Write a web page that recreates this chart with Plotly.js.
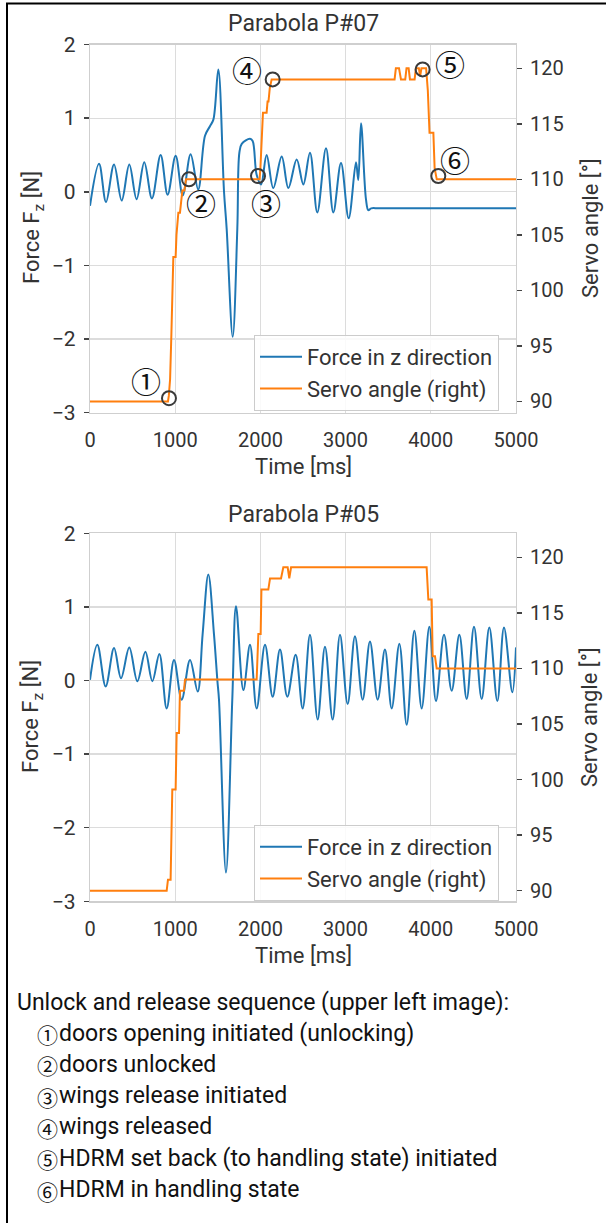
<!DOCTYPE html>
<html>
<head>
<meta charset="utf-8">
<script src="https://cdn.plot.ly/plotly-3.0.1.min.js"></script>
<style>
html,body{margin:0;padding:0;background:#fff;}
#chart{width:608px;height:1223px;}
</style>
</head>
<body>
<div id="chart"></div>
<script>
// ---------- data ----------
const timeTopForce = [0,106,188,282,372,461,547,637,727,829,911,1005,1088,1181,1270,1350,1408,1448,1506,1573,1604,1675,1729,1753,1781,1878,1909,1956,2007,2073,2151,2250,2328,2426,2504,2582,2668,2770,2856,2946,3036,3122,3149,3181,3239,3267,3300,3400,5000];
const forceTop     = [-0.19,0.38,-0.14,0.37,-0.12,0.37,-0.10,0.40,-0.09,0.50,-0.04,0.49,-0.05,0.51,0.03,0.76,0.89,0.98,1.66,0.0,-0.5,-1.97,-0.5,0.53,0.65,0.72,0.69,0.23,0.10,0.50,0.05,0.48,0.05,0.44,0.10,0.53,-0.28,0.59,-0.28,0.39,-0.36,0.40,0.16,0.93,-0.10,-0.25,-0.225,-0.225,-0.225];

const timeTopServo = [0,915,925,940,955,970,978,1005,1015,1037,1056,1084,1108,1127,1990,2000,2030,2073,2084,2095,2110,2132,3575,3590,3627,3650,3700,3715,3740,3755,3810,3825,3860,3875,3890,3945,3965,3985,4030,4045,4070,5000];
const servoTop     = [90,90,90.5,92,96,101,103,103,105,107,107,109,109,110,110,111,116,116,117,117,118.2,119,119,120,120,119,119,120,120,119,119,120,120,119.3,120,120,118,114.2,114.2,111,110,110];

const timeBotForce = [0,86,184,282,364,461,556,650,732,814,900,986,1076,1174,1264,1322,1389,1455,1495,1514,1596,1670,1714,1800,1878,1956,2054,2144,2230,2316,2414,2496,2582,2672,2758,2848,2934,3024,3110,3200,3286,3376,3462,3541,3631,3717,3807,3893,3983,4061,4155,4245,4335,4421,4507,4597,4687,4781,4859,4957,5000];
const forceBot     = [0.01,0.485,-0.08,0.44,0.03,0.45,-0.01,0.39,-0.01,0.36,-0.38,0.28,-0.26,0.28,-0.15,0.63,1.44,0.63,0.0,-0.26,-2.61,-0.26,1.01,-0.13,0.485,-0.38,0.485,-0.22,0.42,-0.22,0.35,-0.38,0.62,-0.53,0.46,-0.53,0.62,-0.32,0.60,-0.26,0.53,-0.26,0.42,-0.38,0.50,-0.60,0.675,-0.38,0.73,-0.28,0.62,-0.14,0.62,-0.25,0.73,-0.25,0.72,-0.28,0.72,-0.16,0.45];

const timeBotServo = [0,900,915,946,966,1005,1017,1045,1056,1103,1115,1956,1976,2003,2012,2093,2113,2242,2269,2320,2339,2360,3951,3971,4010,4022,4049,4069,5000];
const servoBot     = [90,90,91,91,99.1,99.1,104.2,104.2,108,108,109,109,113.1,113.1,117.1,117.1,118.1,118.1,119.1,119.1,118.1,119.1,119.1,116.2,116.2,111.1,111.1,110,110];

const eventTimes  = [927,1162,1972,2144,3904,4088];
const eventAngles = [90.3,110,110.3,119.0,119.9,110.3];
const eventLabels = ['①','②','③','④','⑤','⑥'];

const xTicks     = [0,1000,2000,3000,4000,5000];
const forceTicks = [-3,-2,-1,0,1,2];
const angleTicks = [90,95,100,105,110,115,120];

const chartTitles = ['Parabola P#07','Parabola P#05'];
const seriesNames = ['Force in z direction','Servo angle (right)'];
const noteHeader = 'Unlock and release sequence (upper left image):';
const noteItems = ['doors opening initiated (unlocking)','doors unlocked','wings release initiated','wings released','HDRM set back (to handling state) initiated','HDRM in handling state'];

// ---------- layout helpers ----------
const W = 608, H = 1223;
const px = v => v / W;
const py = v => 1 - v / H;
const FONT = 'Roboto, "Noto Sans", sans-serif';
const CJK = '"Noto Sans CJK JP", "DejaVu Sans", sans-serif';
const TXT = '#333333';
const BLUE = '#1f77b4', ORANGE = '#ff7f0e';

const traces = [
  {x: timeTopForce, y: forceTop, xaxis:'x', yaxis:'y', name: seriesNames[0], mode:'lines',
   line:{color:BLUE, width:2, shape:'spline', smoothing:1}, legend:'legend'},
  {x: timeTopServo, y: servoTop, xaxis:'x', yaxis:'y2', name: seriesNames[1], mode:'lines',
   line:{color:ORANGE, width:2}, legend:'legend'},
  {x: eventTimes, y: eventAngles, xaxis:'x', yaxis:'y2', mode:'markers', showlegend:false, hoverinfo:'skip',
   marker:{symbol:'circle-open', size:14, color:'#3a3a3a', line:{width:2, color:'#3a3a3a'}}},
  {x: timeBotForce, y: forceBot, xaxis:'x2', yaxis:'y3', name: seriesNames[0], mode:'lines',
   line:{color:BLUE, width:2, shape:'spline', smoothing:1}, legend:'legend2'},
  {x: timeBotServo, y: servoBot, xaxis:'x2', yaxis:'y4', name: seriesNames[1], mode:'lines',
   line:{color:ORANGE, width:2}, legend:'legend2'}
];

const gridC = '#dcdcdc', lineC = '#cfcfcf';
const xDom = [px(90), px(516)];
const topDom = [py(412.7), py(44.5)];
const botDom = [py(901.3), py(533.3)];

function xAxis(anchor){
  return {domain:xDom, anchor:anchor, range:[0,5000], tickvals:xTicks, ticktext:xTicks.map(String),
    showgrid:true, gridcolor:gridC, gridwidth:1.2, zeroline:false, showline:true, mirror:true,
    linecolor:lineC, linewidth:1.2, ticks:'', ticklabelstandoff:9,
    tickfont:{family:FONT, size:20, color:TXT}, fixedrange:true};
}
function yLeft(dom, anchor){
  return {domain:dom, anchor:anchor, range:[-3,2], tickvals:forceTicks, ticktext:forceTicks.map(v=>v<0?'\u2212'+Math.abs(v):String(v)),
    showgrid:true, gridcolor:gridC, gridwidth:1.2, zeroline:false, showline:true, mirror:true,
    linecolor:lineC, linewidth:1.2, ticks:'outside', ticklen:5, tickwidth:1.5, tickcolor:'#444',
    ticklabelstandoff:4, tickfont:{family:FONT, size:21, color:TXT}, fixedrange:true};
}
function yRight(over, anchor, range){
  return {overlaying:over, side:'right', anchor:anchor, range:range, tickvals:angleTicks, ticktext:angleTicks.map(String),
    showgrid:false, zeroline:false, showline:false, ticks:'outside', ticklen:5, tickwidth:1.5, tickcolor:'#444',
    ticklabelstandoff:4, tickfont:{family:FONT, size:20, color:TXT}, fixedrange:true};
}

const annotations = [];
function addText(text, x, y, opts){
  annotations.push(Object.assign({text:text, xref:'paper', yref:'paper', x:px(x), y:py(y), showarrow:false,
    xanchor:'center', yanchor:'middle', font:{family:FONT, size:22, color:TXT}}, opts||{}));
}
// titles
addText(chartTitles[0], 303, 24, {font:{family:FONT, size:23, color:TXT}});
addText(chartTitles[1], 303, 515, {font:{family:FONT, size:23, color:TXT}});
// axis titles
[[228, 466],[717, 955]].forEach(([yc, xt]) => {
  addText('Force F<sub>z</sub> [N]', 33, yc, {textangle:-90});
  addText('Servo angle [°]', 590, yc, {textangle:-90});
  addText('Time [ms]', 303, xt);
});
// event labels (top chart)
const labelShift = [[-23,18],[12,-23],[8,-26],[-26,10],[27,6],[17,17]];
eventLabels.forEach((lab,i) => {
  annotations.push({text:lab, xref:'x', yref:'y2', x:eventTimes[i], y:eventAngles[i], showarrow:false,
    xshift:labelShift[i][0], yshift:labelShift[i][1], xanchor:'center', yanchor:'middle',
    font:{family:CJK, size:30, color:'#111'}});
});
// notes
addText(noteHeader, 15, 1002, {xanchor:'left', font:{family:FONT, size:23, color:'#111'}});
noteItems.forEach((t,i) => {
  const yc = 1033 + i*31.3;
  addText(eventLabels[i], 35, yc + 1, {xanchor:'left', font:{family:CJK, size:21, color:'#111'}});
  addText(t, 57, yc, {xanchor:'left', font:{family:FONT, size:23, color:'#111'}});
});

const shapes = [
  {type:'line', xref:'paper', yref:'paper', x0:px(6), x1:px(606), y0:py(3.5), y1:py(3.5), line:{color:'#000', width:2}},
  {type:'line', xref:'paper', yref:'paper', x0:px(7), x1:px(7), y0:py(3), y1:0, line:{color:'#000', width:2}}
];

const legendBase = {xanchor:'left', yanchor:'top', bgcolor:'rgba(255,255,255,0.85)', bordercolor:'#cccccc', borderwidth:1,
  font:{family:FONT, size:22, color:TXT}, itemwidth:42};

const layout = {
  width:W, height:H, margin:{l:0,r:0,t:0,b:0}, paper_bgcolor:'#fff', plot_bgcolor:'#fff',
  xaxis:xAxis('y'), yaxis:yLeft(topDom,'x'), yaxis2:yRight('y','x',[88.99,122.14]),
  xaxis2:xAxis('y3'), yaxis3:yLeft(botDom,'x2'), yaxis4:yRight('y3','x2',[89.05,122.16]),
  legend:Object.assign({x:px(254), y:py(335)}, legendBase),
  legend2:Object.assign({x:px(254), y:py(825)}, legendBase),
  annotations:annotations, shapes:shapes, showlegend:true, hovermode:false
};

Plotly.newPlot('chart', traces, layout, {staticPlot:true, displayModeBar:false});
</script>
</body>
</html>
